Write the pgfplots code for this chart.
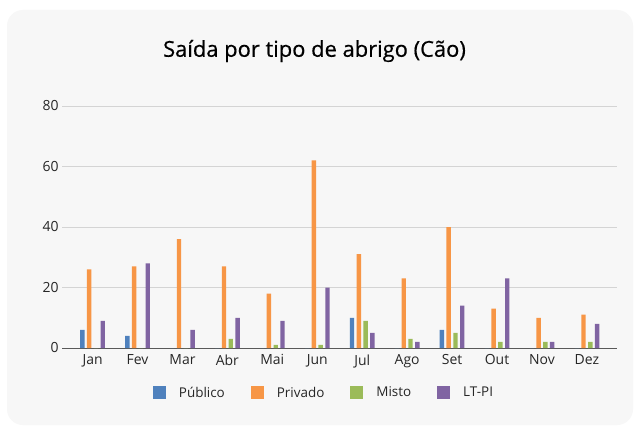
\documentclass[border=0pt]{standalone}
\usepackage{fontspec}
\setmainfont{Open Sans}
\newfontfamily\titlefont{Open Sans}[FakeBold=0.5]
\usepackage{pgfplots}
\pgfplotsset{compat=1.18}

\definecolor{cpub}{HTML}{4F81BD}
\definecolor{cpriv}{HTML}{F79646}
\definecolor{cmis}{HTML}{9BBB59}
\definecolor{clt}{HTML}{8064A2}
\definecolor{panel}{HTML}{F7F7F7}
\definecolor{txt}{HTML}{262626}

\begin{document}
\begin{tikzpicture}[x=1bp,y=1bp]
\fill[white] (0,0) rectangle (635,428);
\fill[panel, rounded corners=16bp] (7,3) rectangle (633,418);
\node[font=\titlefont\fontsize{22}{26}\selectfont, text=black] at (314.5,377) {Saída por tipo de abrigo (Cão)};
\begin{axis}[
  at={(62bp,80bp)}, anchor=south west,
  scale only axis, width=555bp, height=242bp,
  xmin=-0.68, xmax=11.67, ymin=0, ymax=80,
  ybar=2.4bp, bar width=4.4bp,
  axis lines*=left,
  y axis line style={draw=none},
  x axis line style={draw=black!65, line width=1pt},
  ytick={0,20,40,60,80},
  xtick={0,...,11},
  xticklabels={Jan,Fev,Mar,Abr,Mai,Jun,Jul,Ago,Set,Out,Nov,Dez},
  major tick length=0pt,
  ymajorgrids, grid style={draw=black!17, line width=0.8pt},
  tick label style={font=\fontsize{14}{16}\selectfont, text=txt},
  x tick label style={yshift=-3bp},
  /pgf/number format/assume math mode=true,
  legend columns=4,
  legend style={at={(0.472,-0.185)}, anchor=center, draw=none, fill=none,
    font=\fontsize{13.5}{16}\selectfont, text=txt,
    /tikz/every odd column/.append style={column sep=11bp},
    /tikz/every even column/.append style={column sep=24bp}},
  legend image code/.code={\fill[#1] (0bp,-6.5bp) rectangle (13bp,6.5bp);},
  every axis plot/.append style={draw=none},
]
\addplot[fill=cpub] coordinates {(0,6)(1,4)(2,0)(3,0)(4,0)(5,0)(6,10)(7,0)(8,6)(9,0)(10,0)(11,0)};
\addplot[fill=cpriv] coordinates {(0,26)(1,27)(2,36)(3,27)(4,18)(5,62)(6,31)(7,23)(8,40)(9,13)(10,10)(11,11)};
\addplot[fill=cmis] coordinates {(0,0)(1,0)(2,0)(3,3)(4,1)(5,1)(6,9)(7,3)(8,5)(9,2)(10,2)(11,2)};
\addplot[fill=clt] coordinates {(0,9)(1,28)(2,6)(3,10)(4,9)(5,20)(6,5)(7,2)(8,14)(9,23)(10,2)(11,8)};
\legend{Público,Privado,Misto,LT-PI}
\end{axis}
\end{tikzpicture}
\end{document}
